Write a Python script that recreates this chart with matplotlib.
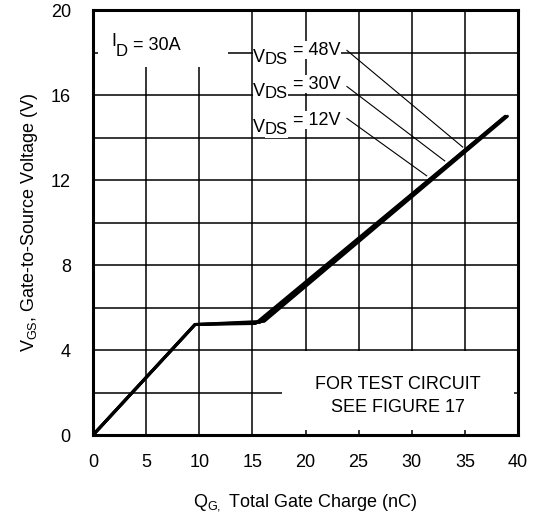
import matplotlib
matplotlib.use("Agg")
import matplotlib.pyplot as plt
from matplotlib.patches import Rectangle

plt.rcParams['font.family'] = ['Liberation Sans', 'DejaVu Sans']
plt.rcParams['mathtext.fontset'] = 'custom'
plt.rcParams['mathtext.rm'] = 'Liberation Sans'
plt.rcParams['mathtext.it'] = 'Liberation Sans'

# gate charge curves (nC, V) for the three drain voltages
vds_labels = ["12V", "30V", "48V"]
qg_12 = [0, 9.6, 15.3, 38.6]
vgs_12 = [0, 5.2, 5.25, 14.9]
qg_30 = [0, 9.6, 15.7, 38.8]
vgs_30 = [0, 5.2, 5.3, 15.0]
qg_48 = [0, 9.6, 16.1, 39.0]
vgs_48 = [0, 5.2, 5.35, 15.0]

# leader lines: label end -> curve point
lead_start = [(23.9, 14.9), (23.9, 16.4), (23.9, 18.1)]
lead_end = [(31.4, 12.2), (33.1, 12.9), (34.8, 13.55)]
label_pos = [(23.3, 15.0), (23.3, 16.7), (23.3, 18.3)]

xticks = [0, 5, 10, 15, 20, 25, 30, 35, 40]
yticks = [0, 4, 8, 12, 16, 20]

FS = 13
SUB = 12


def sub_label(ax, x, y, main, sub, rest, ha='left', bbox=None):
    # main letter + big subscript + remainder, chained text pieces
    if ha == 'left':
        t1 = ax.text(x, y, main, ha='left', va='baseline', fontsize=FS, zorder=3, bbox=bbox)
        t2 = ax.annotate(sub, xy=(1, 0), xycoords=t1, xytext=(0, -4), textcoords='offset points',
                         ha='left', va='baseline', fontsize=SUB, zorder=3, bbox=bbox)
        ax.annotate(rest, xy=(1, 0), xycoords=t1, xytext=(t2_width(ax, t2), 0),
                    textcoords='offset pixels', ha='left', va='baseline', fontsize=FS, zorder=3, bbox=bbox)
    else:
        t3 = ax.text(x, y, rest, ha='right', va='baseline', fontsize=FS, zorder=3, bbox=bbox)
        t2 = ax.annotate(sub, xy=(0, 0), xycoords=t3, xytext=(0, -4), textcoords='offset points',
                         ha='right', va='baseline', fontsize=SUB, zorder=3, bbox=bbox)
        ax.annotate(main, xy=(0, 0), xycoords=t2, xytext=(0, 4), textcoords='offset points',
                    ha='right', va='baseline', fontsize=FS, zorder=3, bbox=bbox)


def t2_width(ax, t):
    r = ax.figure.canvas.get_renderer()
    return t.get_window_extent(r).width


fig = plt.figure(figsize=(5.38, 5.19), dpi=100)
ax = fig.add_axes([0.1729, 0.1618, 0.7899, 0.8189])
ax.set_xlim(0, 40)
ax.set_ylim(0, 20)

# grid
for x in range(5, 40, 5):
    ax.axvline(x, color='black', lw=1.1, zorder=1)
for y in range(2, 20, 2):
    ax.axhline(y, color='black', lw=1.1, zorder=1)

# white masks behind annotation text
ax.add_patch(Rectangle((0.5, 17.3), 12.2, 2.6, facecolor='white', edgecolor='none', zorder=2))
ax.add_patch(Rectangle((17.8, 0.25), 21.8, 3.7, facecolor='white', edgecolor='none', zorder=2))

for qg, vgs in [(qg_12, vgs_12), (qg_30, vgs_30), (qg_48, vgs_48)]:
    ax.plot(qg, vgs, color='black', lw=2.2, solid_capstyle='round', zorder=4)

for (x0, y0), (x1, y1) in zip(lead_start, lead_end):
    ax.plot([x0, x1], [y0, y1], color='black', lw=0.8, zorder=3)

box = dict(facecolor='white', edgecolor='none', pad=0.3)
for lab, (x, y) in zip(vds_labels, label_pos):
    sub_label(ax, x, y - 0.4, "V", "DS", " = " + lab, ha='right', bbox=box)

sub_label(ax, 1.7, 18.3, "I", "D", " = 30A", ha='left')
ax.text(28.7, 2.4, "FOR TEST CIRCUIT", ha='center', va='center', fontsize=FS, zorder=3)
ax.text(28.7, 1.3, "SEE FIGURE 17", ha='center', va='center', fontsize=FS, zorder=3)

ax.set_xticks(xticks)
ax.set_yticks(yticks)
ax.tick_params(length=0, labelsize=FS)
ax.tick_params(axis='x', pad=14)
ax.tick_params(axis='y', pad=16)
for s in ax.spines.values():
    s.set_linewidth(2.2)
    s.set_zorder(5)

ax.set_xlabel(r"Q$_{\mathrm{G,}}$ Total Gate Charge (nC)", fontsize=FS, labelpad=15)
ax.set_ylabel(r"V$_{\mathrm{GS}}$, Gate-to-Source Voltage (V)", fontsize=FS, labelpad=8)

fig.savefig("out.png", dpi=100)
